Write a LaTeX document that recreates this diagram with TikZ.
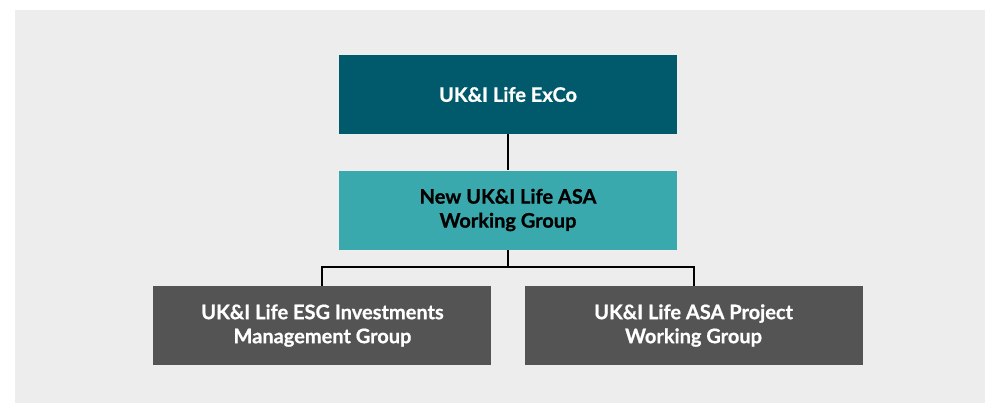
\documentclass[tikz,border=0pt]{standalone}
\usepackage{xcolor}
\usepackage{fontspec}
\setmainfont{Lato}[BoldFeatures={FakeBold=0.8}]
\usepackage{tikz}
\usetikzlibrary{positioning}

\definecolor{panelgray}{HTML}{EDEDED}
\definecolor{exteal}{HTML}{005A6B}
\definecolor{asateal}{HTML}{3AA9AE}
\definecolor{subgray}{HTML}{545454}

\tikzset{box/.style = {rectangle, minimum width=253.5pt, minimum height=59.25pt, inner sep=0pt, align=center, font=\bfseries\fontsize{15}{18}\selectfont}}
\tikzset{subbox/.style = {box, fill=subgray, text=white}}
\tikzset{link/.style = {line width=1.5pt, black}}

\begin{document}
\begin{tikzpicture}[x=0.75pt,y=0.75pt,node distance=27pt]
                % grey panel behind the chart
                \useasboundingbox (0,0) rectangle (985,403);
                \fill[panelgray] (15,0) rectangle (985,393);

                \node[box, fill=exteal, text=white] (exco) at (508,308.5) {UK\&I Life ExCo};
                \node[box, fill=asateal, text=black] (asa) [below=of exco] {New UK\&I Life ASA\\Working Group};
                \node[subbox] (esg) [below left=27pt and -114.75pt of asa] {UK\&I Life ESG Investments\\Management Group};
                \node[subbox] (proj) [below right=27pt and -114.75pt of asa] {UK\&I Life ASA Project\\Working Group};

                \draw[link] (exco) -- (asa);
                \draw[link] (asa.south) -- ++(0,-17) -| (esg.north);
                \draw[link] (asa.south) ++(0,-17) -| (proj.north);
\end{tikzpicture}
\end{document}
